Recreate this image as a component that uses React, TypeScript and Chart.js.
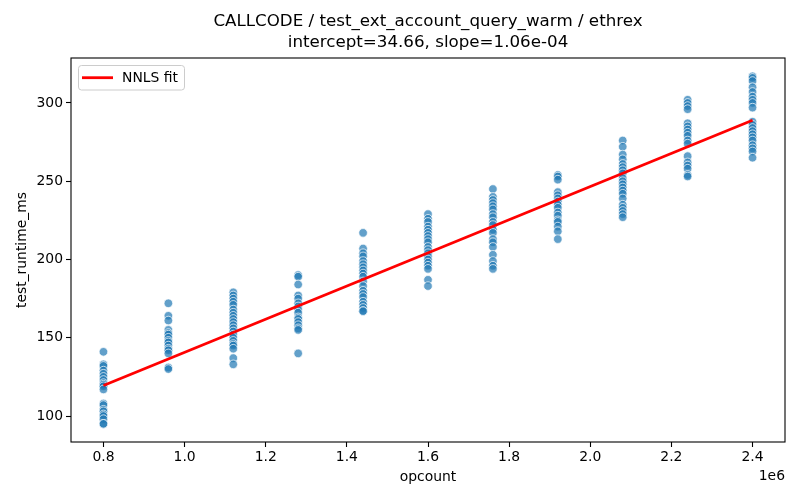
import { useEffect, useRef } from 'react';
import { Chart, registerables } from 'chart.js';

Chart.register(...registerables);

// opcount levels on the x axis
const opcounts = [800000, 960000, 1120000, 1280000, 1440000, 1600000, 1760000, 1920000, 2080000, 2240000, 2400000];

// measured runtimes (ms) for each opcount level
const runtimes0800k = [141, 133, 132, 129, 127, 125, 123, 121, 120, 119, 117, 108, 107, 104, 103, 101, 100, 98, 95, 95];
const runtimes0960k = [172, 164, 161, 155, 153, 152, 150, 148, 147, 145, 143, 142, 140, 131, 130];
const runtimes1120k = [179, 177, 175, 173, 171, 168, 166, 164, 162, 160, 158, 156, 154, 152, 150, 148, 146, 145, 143, 137, 133];
const runtimes1280k = [190, 189, 184, 177, 175, 172, 170, 168, 166, 163, 162, 160, 158, 156, 155, 140];
const runtimes1440k = [217, 207, 204, 202, 199, 197, 195, 193, 191, 189, 186, 183, 180, 178, 176, 173, 171, 169, 167, 167];
const runtimes1600k = [229, 226, 224, 221, 219, 217, 215, 213, 211, 208, 206, 204, 202, 200, 198, 196, 194, 187, 183];
const runtimes1760k = [245, 240, 238, 236, 234, 232, 229, 227, 224, 222, 219, 217, 213, 211, 208, 203, 199, 196, 194];
const runtimes1920k = [254, 253, 251, 243, 241, 239, 237, 235, 233, 230, 228, 225, 224, 221, 218, 213];
const runtimes2080k = [276, 272, 267, 264, 261, 259, 257, 255, 252, 250, 248, 246, 244, 242, 239, 235, 233, 231, 229, 227];
const runtimes2240k = [302, 300, 298, 296, 287, 285, 283, 281, 279, 276, 274, 266, 262, 260, 258, 254, 253];
const runtimes2400k = [317, 316, 314, 310, 307, 304, 302, 300, 297, 288, 286, 284, 282, 280, 278, 276, 273, 271, 269, 265];

const runtimeColumns = [
   runtimes0800k, runtimes0960k, runtimes1120k, runtimes1280k, runtimes1440k, runtimes1600k,
   runtimes1760k, runtimes1920k, runtimes2080k, runtimes2240k, runtimes2400k,
];

// NNLS fit line end points
const fitX = [800000, 2400000];
const fitY = [119.5, 288.9];

const xTicks = [800000, 1000000, 1200000, 1400000, 1600000, 1800000, 2000000, 2200000, 2400000];
const yTicks = [100, 150, 200, 250, 300];

const titleLines = ['CALLCODE / test_ext_account_query_warm / ethrex', 'intercept=34.66, slope=1.06e-04'];
const fitLabel = 'NNLS fit';

const FONT = "'DejaVu Sans', sans-serif";

const framePlugin = {
   id: 'mplFrame',
   afterDatasetsDraw(chart: any) {
      const { ctx, chartArea } = chart;
      const { left, top, right, bottom } = chartArea;
      ctx.save();
      // spines
      ctx.strokeStyle = '#000';
      ctx.lineWidth = 1.1;
      ctx.strokeRect(left, top, right - left, bottom - top);

      // offset text for the x axis
      ctx.fillStyle = '#000';
      ctx.font = `13.9px ${FONT}`;
      ctx.textAlign = 'right';
      ctx.textBaseline = 'middle';
      ctx.fillText('1e6', right, bottom + 34);

      // legend box (upper left)
      const fit = chart.data.datasets.find((d: any) => d.label === fitLabel);
      const lx = left + 7.5;
      const ly = top + 7.5;
      ctx.beginPath();
      ctx.roundRect(lx, ly, 106, 24.5, 3);
      ctx.fillStyle = 'rgba(255,255,255,0.8)';
      ctx.fill();
      ctx.strokeStyle = '#cccccc';
      ctx.lineWidth = 1;
      ctx.stroke();
      ctx.beginPath();
      ctx.moveTo(lx + 3.5, ly + 12.2);
      ctx.lineTo(lx + 34.5, ly + 12.2);
      ctx.strokeStyle = fit.borderColor;
      ctx.lineWidth = 2.8;
      ctx.stroke();
      ctx.fillStyle = '#000';
      ctx.textAlign = 'left';
      ctx.fillText(fit.label, lx + 43.5, ly + 12.5);
      ctx.restore();
   },
};

export default function App() {
   const chartRef = useRef<HTMLCanvasElement>(null);
   const chartInstance = useRef<Chart | null>(null);

   useEffect(() => {
      if (!chartRef.current) return;
      if (chartInstance.current) {
         chartInstance.current.destroy();
      }
      const ctx = chartRef.current.getContext('2d');
      if (!ctx) return;

      const points = opcounts.flatMap((x, i) => runtimeColumns[i].map((y) => ({ x, y })));
      const fitPoints = fitX.map((x, i) => ({ x, y: fitY[i] }));

      const tickFont = { family: FONT, size: 13.9 };

      chartInstance.current = new Chart(ctx, {
         type: 'scatter',
         data: {
            datasets: [
               {
                  label: fitLabel,
                  data: fitPoints,
                  showLine: true,
                  borderColor: '#ff0000',
                  backgroundColor: '#ff0000',
                  borderWidth: 2.8,
                  pointRadius: 0,
                  order: 0,
               },
               {
                  label: 'runs',
                  data: points,
                  backgroundColor: 'rgba(31,119,180,0.7)',
                  borderColor: 'rgba(255,255,255,0.7)',
                  borderWidth: 1,
                  pointRadius: 4.3,
                  order: 1,
               },
            ],
         },
         options: {
            animation: false,
            responsive: true,
            maintainAspectRatio: false,
            layout: { padding: { left: 0, right: 15, top: 0, bottom: 0 } },
            plugins: {
               legend: { display: false },
               tooltip: { enabled: false },
               title: {
                  display: true,
                  text: titleLines,
                  color: '#000',
                  fullSize: false,
                  font: { family: FONT, size: 16.7, weight: 'normal', lineHeight: 1.25 },
                  padding: { top: 11.5, bottom: 4.75 },
               },
            },
            scales: {
               x: {
                  type: 'linear',
                  min: 720000,
                  max: 2480000,
                  afterBuildTicks: (axis: any) => {
                     axis.ticks = xTicks.map((value) => ({ value }));
                  },
                  afterFit: (scale: any) => {
                     scale.height = 58;
                  },
                  ticks: {
                     color: '#000',
                     font: tickFont,
                     padding: 2,
                     maxRotation: 0,
                     autoSkip: false,
                     callback: (v: any) => (Number(v) / 1e6).toFixed(1),
                  },
                  grid: {
                     drawOnChartArea: false,
                     drawTicks: true,
                     tickLength: 5,
                     tickWidth: 1.1,
                     tickColor: '#000',
                  },
                  border: { display: false },
                  title: {
                     display: true,
                     text: 'opcount',
                     color: '#000',
                     font: tickFont,
                     padding: { top: 4, bottom: 14.7 },
                  },
               },
               y: {
                  type: 'linear',
                  min: 83.4,
                  max: 328.7,
                  afterBuildTicks: (axis: any) => {
                     axis.ticks = yTicks.map((value) => ({ value }));
                  },
                  afterFit: (scale: any) => {
                     scale.width = 71;
                  },
                  ticks: {
                     color: '#000',
                     font: tickFont,
                     padding: 3,
                     autoSkip: false,
                  },
                  grid: {
                     drawOnChartArea: false,
                     drawTicks: true,
                     tickLength: 5,
                     tickWidth: 1.1,
                     tickColor: '#000',
                  },
                  border: { display: false },
                  title: {
                     display: true,
                     text: 'test_runtime_ms',
                     color: '#000',
                     font: tickFont,
                     padding: { top: 13.7, bottom: 4 },
                  },
               },
            },
         },
         plugins: [framePlugin],
      } as any);

      return () => {
         if (chartInstance.current) {
            chartInstance.current.destroy();
            chartInstance.current = null;
         }
      };
   }, []);

   return (
      <div style={{ position: 'fixed', left: 0, top: 0, width: 800, height: 500, background: '#fff' }}>
         <canvas ref={chartRef} />
      </div>
   );
}
